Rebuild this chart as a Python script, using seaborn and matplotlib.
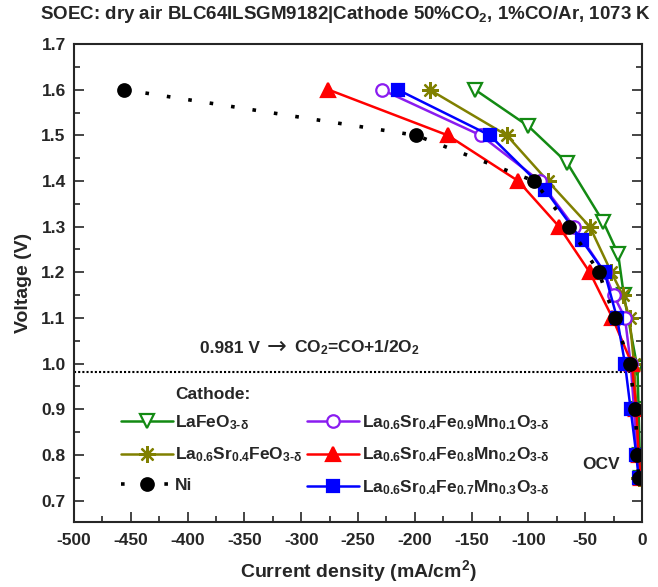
import matplotlib
matplotlib.use("Agg")
import matplotlib.pyplot as plt
import seaborn as sns
import numpy as np

# Current density (mA/cm2) and cell voltage (V) for each cathode
lafeo3_j = [-147, -100, -66, -34, -21, -16, -4, -3, -2, -1]
lafeo3_v = [1.60, 1.52, 1.44, 1.31, 1.24, 1.15, 0.99, 0.90, 0.80, 0.75]

lsf_j = [-187, -119, -83, -46, -27, -17, -11, -7, -5, -3.5, -2.5]
lsf_v = [1.60, 1.50, 1.40, 1.30, 1.20, 1.15, 1.10, 1.00, 0.90, 0.80, 0.75]

ni_j = [-456, -199, -95, -64, -38, -24, -11, -6, -4, -3]
ni_v = [1.60, 1.50, 1.40, 1.30, 1.20, 1.10, 1.00, 0.90, 0.80, 0.75]

lsfm91_j = [-229, -142, -90, -60, -33, -25, -15, -10, -7, -5, -2]
lsfm91_v = [1.60, 1.50, 1.40, 1.30, 1.20, 1.15, 1.10, 1.00, 0.90, 0.80, 0.75]

lsfm82_j = [-276, -171, -109, -73, -46, -26, -9, -5, -3, -1]
lsfm82_v = [1.60, 1.50, 1.40, 1.30, 1.20, 1.10, 1.00, 0.90, 0.80, 0.75]

lsfm73_j = [-215, -134, -85, -53, -33, -22, -15, -10, -5, -3]
lsfm73_v = [1.60, 1.50, 1.38, 1.27, 1.20, 1.10, 1.00, 0.90, 0.80, 0.75]

labels = [
    r"LaFeO$_{3\text{-}\delta}$",
    r"La$_{0.6}$Sr$_{0.4}$FeO$_{3\text{-}\delta}$",
    "Ni",
    r"La$_{0.6}$Sr$_{0.4}$Fe$_{0.9}$Mn$_{0.1}$O$_{3\text{-}\delta}$",
    r"La$_{0.6}$Sr$_{0.4}$Fe$_{0.8}$Mn$_{0.2}$O$_{3\text{-}\delta}$",
    r"La$_{0.6}$Sr$_{0.4}$Fe$_{0.7}$Mn$_{0.3}$O$_{3\text{-}\delta}$",
]

ocv_threshold = 0.981

sns.set_theme(style="ticks")
plt.rcParams["font.family"] = ["Liberation Sans", "DejaVu Sans"]
plt.rcParams["font.weight"] = "bold"
plt.rcParams["axes.labelweight"] = "bold"
plt.rcParams["axes.unicode_minus"] = False
plt.rcParams["mathtext.fontset"] = "custom"
plt.rcParams["mathtext.rm"] = "Liberation Sans:bold"
plt.rcParams["mathtext.bf"] = "Liberation Sans:bold"
plt.rcParams["mathtext.it"] = "Liberation Sans:bold"
plt.rcParams["mathtext.default"] = "bf"

fig = plt.figure(figsize=(6.58, 5.87), dpi=100)
ax = fig.add_axes([0.1125, 0.1107, 0.8632, 0.8143])

styles = [
    dict(j=lafeo3_j, v=lafeo3_v, color="#138a13", marker="v", mfc="white", ms=10, ls="-"),
    dict(j=lsf_j, v=lsf_v, color="#808000", marker=(8, 2, 0), mfc="#808000", ms=12, ls="-"),
    dict(j=lsfm91_j, v=lsfm91_v, color="#8a1cf0", marker="o", mfc="white", ms=9, ls="-"),
    dict(j=lsfm82_j, v=lsfm82_v, color="#ff0000", marker="^", mfc="#ff0000", ms=10, ls="-"),
    dict(j=lsfm73_j, v=lsfm73_v, color="#0000ff", marker="s", mfc="#0000ff", ms=8.5, ls="-"),
    dict(j=ni_j, v=ni_v, color="black", marker="o", mfc="black", ms=9, ls=(0, (1, 5))),
]
names = [labels[0], labels[1], labels[3], labels[4], labels[5], labels[2]]

handles = {}
for st, name in zip(styles, names):
    sns.lineplot(
        x=st["j"], y=st["v"], ax=ax, sort=False, estimator=None,
        color=st["color"], marker=st["marker"], markersize=st["ms"],
        markerfacecolor=st["mfc"], markeredgecolor=st["color"],
        markeredgewidth=1.6, linewidth=2.6 if st["ls"] != "-" else 1.8,
        linestyle=st["ls"], label=name,
    )
    handles[name] = ax.get_lines()[-1]

ax.plot([-500, -10], [ocv_threshold, ocv_threshold], color="black",
        linestyle=(0, (1, 1)), linewidth=1.5, zorder=1)

ax.set_xlim(-500, 0)
ax.set_ylim(0.653, 1.7)
ax.set_xticks(np.arange(-500, 1, 50))
ax.set_xticks(np.arange(-475, 0, 50), minor=True)
ax.set_yticks(np.round(np.arange(0.7, 1.71, 0.1), 1))
ax.set_yticks(np.round(np.arange(0.75, 1.7, 0.1), 2), minor=True)
ax.yaxis.set_major_formatter(matplotlib.ticker.FormatStrFormatter("%.1f"))
ax.tick_params(which="both", direction="in", right=True, top=False, width=1.2, labelsize=12.5)
ax.tick_params(which="major", length=7)
ax.tick_params(which="minor", length=4)
ax.tick_params(axis="x", pad=8)
ax.tick_params(axis="y", pad=6)
for s in ax.spines.values():
    s.set_linewidth(1.5)
    s.set_visible(True)

ax.set_xlabel("Current density (mA/cm$^2$)", fontsize=14, labelpad=7)
ax.set_ylabel("Voltage (V)", fontsize=14, labelpad=7)
fig.text(0.525, 0.975, "SOEC: dry air BLC64ILSGM9182|Cathode 50%CO$_2$, 1%CO/Ar, 1073 K",
         ha="center", va="center", fontsize=13.5, fontweight="bold")

# Thermodynamic CO2 electrolysis voltage annotation
ax.text(-389, 1.034, "0.981 V", fontsize=12.5, ha="left", va="center")
ax.text(-330, 1.036, "\u2192", fontsize=17, fontweight="normal",
        family=["DejaVu Sans"], ha="left", va="center")
ax.text(-306, 1.034, "CO$_2$=CO+1/2O$_2$", fontsize=12.5, ha="left", va="center")

ax.text(-411, 0.932, "Cathode:", fontsize=12.5, ha="left", va="center")
ax.text(-36, 0.78, "OCV", fontsize=12.5, ha="center", va="center")

order = labels
leg = ax.legend([handles[n] for n in order], order, ncol=2, frameon=False,
                loc="center left", bbox_to_anchor=(0.082, 0.140),
                borderpad=0, borderaxespad=0, handlelength=3.0, handletextpad=0.15,
                columnspacing=0.25, labelspacing=0.8, fontsize=12.5)

fig.savefig("out.png", dpi=100)
